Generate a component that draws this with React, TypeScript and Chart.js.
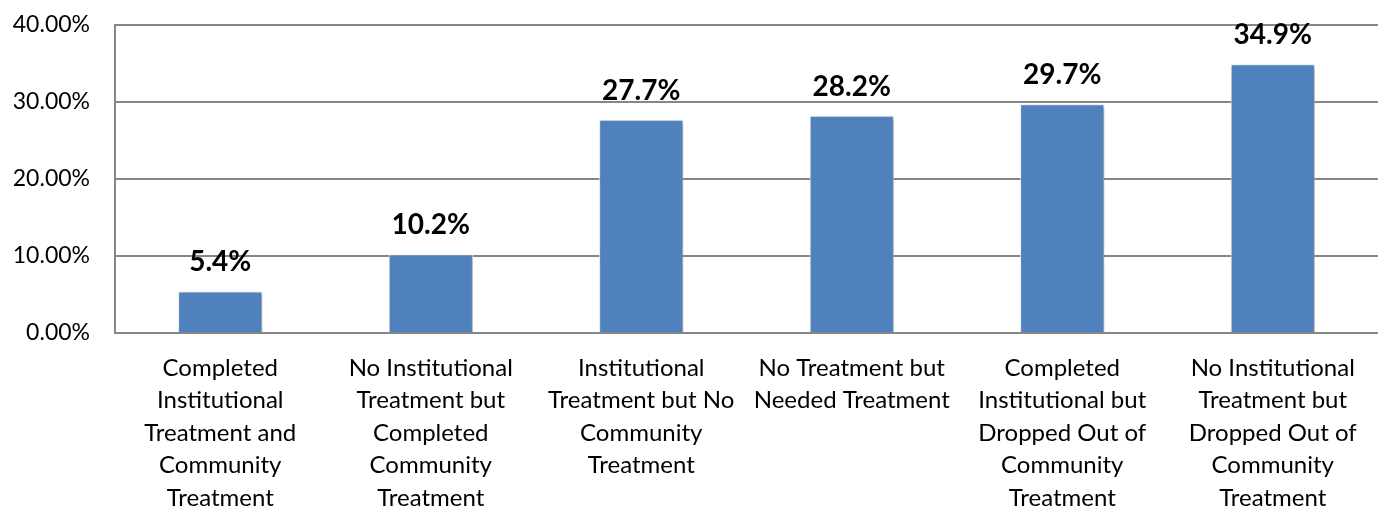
import React, { useEffect, useRef } from "react";
import { Chart, registerables } from "chart.js";

Chart.register(...registerables);

const categories: string[][] = [
  ["Completed", "Institutional", "Treatment and", "Community", "Treatment"],
  ["No Institutional", "Treatment but", "Completed", "Community", "Treatment"],
  ["Institutional", "Treatment but No", "Community", "Treatment"],
  ["No Treatment but", "Needed Treatment"],
  ["Completed", "Institutional but", "Dropped Out of", "Community", "Treatment"],
  ["No Institutional", "Treatment but", "Dropped Out of", "Community", "Treatment"],
];
const values: number[] = [5.4, 10.2, 27.7, 28.2, 29.7, 34.9];
const valueLabels: string[] = ["5.4%", "10.2%", "27.7%", "28.2%", "29.7%", "34.9%"];
const yMin = 0;
const yMax = 40;
const yStep = 10;

const FONT = "Lato, 'Open Sans', sans-serif";

const shadowPlugin = {
  id: "barShadow",
  beforeDatasetDraw(chart: any) {
    const ctx = chart.ctx;
    ctx.save();
    ctx.shadowColor = "rgba(0,0,0,0.35)";
    ctx.shadowBlur = 4;
    ctx.shadowOffsetX = 2;
    ctx.shadowOffsetY = 2;
  },
  afterDatasetDraw(chart: any) {
    chart.ctx.restore();
  },
};

const labelPlugin = {
  id: "valueLabels",
  afterDatasetsDraw(chart: any) {
    const ctx = chart.ctx;
    const meta = chart.getDatasetMeta(0);
    ctx.save();
    ctx.font = `bold 28px ${FONT}`;
    ctx.fillStyle = "#000";
    ctx.textAlign = "center";
    ctx.textBaseline = "middle";
    meta.data.forEach((bar: any, i: number) => {
      ctx.fillText(valueLabels[i], bar.x, bar.y - 29);
    });
    ctx.restore();
  },
};

export default function App() {
  const ref = useRef<HTMLCanvasElement | null>(null);
  useEffect(() => {
    if (!ref.current) return;
    const chart = new Chart(ref.current, {
      type: "bar",
      data: {
        labels: categories,
        datasets: [
          {
            data: values,
            backgroundColor: "#4F81BD",
            borderColor: "#F2F2F2",
            borderWidth: 1,
            barPercentage: 0.4,
            categoryPercentage: 1,
          },
        ],
      },
      options: {
        animation: false,
        responsive: false,
        maintainAspectRatio: false,
        layout: { padding: { top: 25, right: 0, left: 0, bottom: 0 } },
        plugins: {
          legend: { display: false },
          tooltip: { enabled: false },
        },
        scales: {
          x: {
            grid: { display: false, drawTicks: false },
            border: { display: true, color: "#868686", width: 2 },
            ticks: {
              color: "#000",
              font: { family: FONT, size: 24, lineHeight: 1.354 },
              maxRotation: 0,
              minRotation: 0,
              autoSkip: false,
              padding: 19,
            },
            afterFit(scale: any) {
              scale.height = 178;
              scale.paddingLeft = 0;
              scale.paddingRight = 0;
              scale.paddingTop = 0;
              scale.paddingBottom = 0;
            },
          },
          y: {
            min: yMin,
            max: yMax,
            ticks: {
              stepSize: yStep,
              color: "#000",
              font: { family: FONT, size: 23 },
              padding: 25,
              callback: (v: any) => Number(v).toFixed(2) + "%",
            },
            grid: { color: "#868686", lineWidth: 2, drawTicks: false },
            border: { display: true, color: "#868686", width: 2 },
            afterFit(scale: any) {
              scale.width = 115;
              scale.paddingTop = 0;
              scale.paddingBottom = 0;
              scale.paddingLeft = 0;
              scale.paddingRight = 0;
            },
          },
        },
      },
      plugins: [shadowPlugin, labelPlugin],
    });
    return () => chart.destroy();
  }, []);
  return (
    <div style={{ position: "fixed", left: 0, top: 0, width: 1378, height: 511, background: "#fff" }}>
      <canvas ref={ref} width={1378} height={511} style={{ display: "block" }} />
    </div>
  );
}
